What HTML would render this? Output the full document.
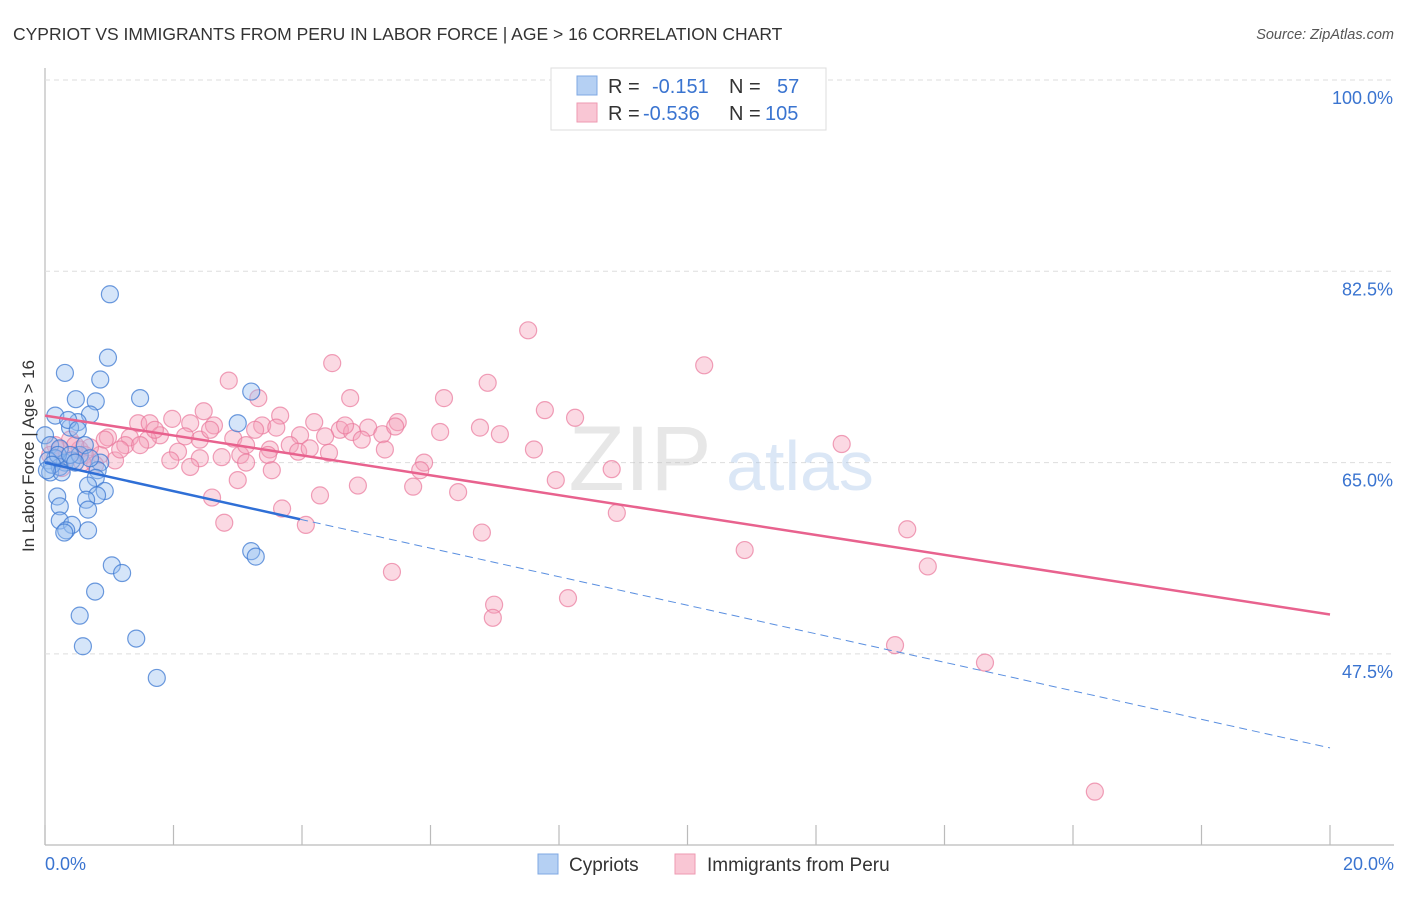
<!DOCTYPE html>
<html><head><meta charset="utf-8"><style>
body{margin:0;background:#fff;font-family:"Liberation Sans",sans-serif}
svg text{font-family:"Liberation Sans",sans-serif}
</style></head><body>
<svg id="chart" width="1406" height="892" viewBox="0 0 1406 892" xmlns="http://www.w3.org/2000/svg">
<text x="13" y="40" font-size="17.5" fill="#333">CYPRIOT VS IMMIGRANTS FROM PERU IN LABOR FORCE | AGE &gt; 16 CORRELATION CHART</text>
<text x="1394" y="39" font-size="14.5" fill="#555" text-anchor="end" font-style="italic">Source: ZipAtlas.com</text>
<g id="grid"></g>
<g opacity="0.35">
<text x="640" y="490" font-size="92" fill="#bbb" text-anchor="middle" font-family="Liberation Serif">ZIP</text>
<text x="800" y="490" font-size="70" fill="#9bbbe6" text-anchor="middle">atlas</text>
</g>
<g id="points"></g>
<g id="lines"></g>
<text transform="translate(34,456) rotate(-90)" font-size="17" fill="#333" text-anchor="middle">In Labor Force | Age &gt; 16</text>
<text x="45" y="870" font-size="18" fill="#3a74d0">0.0%</text>
<text x="1394" y="870" font-size="18" fill="#3a74d0" text-anchor="end">20.0%</text>
<g>
<rect x="551" y="68" width="275" height="62" fill="#fff" stroke="#ddd"/>
<rect x="577" y="76" width="20" height="19" fill="#b5d0f3" stroke="#7fa8e3"/>
<rect x="577" y="103" width="20" height="19" fill="#f9c6d4" stroke="#ee9ab2"/>
<text x="608" y="93" font-size="20" fill="#333">R =</text>
<text x="652" y="93" font-size="20" fill="#3a74d0">-0.151</text>
<text x="729" y="93" font-size="20" fill="#333">N =</text>
<text x="777" y="93" font-size="20" fill="#3a74d0">57</text>
<text x="608" y="120" font-size="20" fill="#333">R =</text>
<text x="643" y="120" font-size="20" fill="#3a74d0">-0.536</text>
<text x="729" y="120" font-size="20" fill="#333">N =</text>
<text x="765" y="120" font-size="20" fill="#3a74d0">105</text>
</g>
<g>
<rect x="538" y="854" width="20" height="20" fill="#b5d0f3" stroke="#7fa8e3"/>
<text x="569" y="871" font-size="19" fill="#333">Cypriots</text>
<rect x="675" y="854" width="20" height="20" fill="#f9c6d4" stroke="#ee9ab2"/>
<text x="707" y="871" font-size="19" fill="#333">Immigrants from Peru</text>
</g>
</svg>
<script>
const yTicks=[100,82.5,65,47.5];
const yTickLabels=["100.0%","82.5%","65.0%","47.5%"];
const xTicks=[0,2,4,6,8,10,12,14,16,18,20];
const blueX=[1.01,0.98,0.31,0.86,1.48,0.48,0.79,0.16,0.70,0.51,0.39,3.21,3.00,0,0.08,0.23,0.16,0.05,0.31,0.42,0.54,0.86,0.82,0.08,0.23,0.79,0.93,0.67,0.81,0.19,0.64,0.67,0.23,0.23,0.42,0.67,0.33,0.30,1.04,1.20,0.78,0.54,0.59,1.42,1.74,3.21,3.28,0.36,0.51,0.20,0.39,0.11,0.26,0.62,0.70,0.03,0.47];
const blueY=[80.4,74.6,73.2,72.6,70.9,70.8,70.6,69.3,69.4,68.7,68.2,71.5,68.6,67.5,66.6,66.3,65.4,65.2,65.0,65.2,65.7,65.0,64.3,64.1,64.6,63.6,62.4,62.9,62.0,61.9,61.6,60.7,61.0,59.7,59.3,58.8,58.8,58.6,55.6,54.9,53.2,51.0,48.2,48.9,45.3,56.9,56.4,68.9,68.0,65.7,65.7,64.8,64.1,66.6,65.4,64.3,65.0];
const pinkX=[7.52,4.47,10.26,6.89,2.86,4.75,6.21,3.32,7.78,2.47,3.66,8.25,1.98,1.45,1.63,2.26,2.63,3.38,4.19,5.49,5.03,6.77,3.60,4.59,4.78,5.25,6.15,7.08,4.36,3.97,1.79,2.18,0.98,1.32,1.60,2.93,4.93,12.40,3.81,3.50,7.61,3.94,2.07,3.47,4.42,3.04,2.41,2.75,1.09,0.86,0.54,0.70,3.13,2.26,5.90,5.84,8.82,3.00,7.95,4.87,5.73,6.43,4.28,2.60,3.69,8.90,13.42,2.79,4.06,6.80,10.89,5.40,13.74,8.14,6.99,6.97,13.23,14.63,16.34,0.39,0.23,0.47,0.62,0.31,0.93,1.25,1.71,2.41,3.27,2.57,5.45,4.12,1.95,1.48,1.17,0.78,0.16,0.08,0.58,0.26,3.13,5.29,3.53,4.67];
const pinkY=[77.1,74.1,73.9,72.3,72.5,70.9,70.9,70.9,69.8,69.7,69.3,69.1,69.0,68.6,68.6,68.6,68.4,68.4,68.7,68.7,68.2,68.2,68.2,68.0,67.8,67.6,67.8,67.6,67.4,67.5,67.5,67.4,67.3,67.3,67.1,67.2,67.1,66.7,66.6,66.2,66.2,66.0,66.0,65.7,65.9,65.7,65.4,65.5,65.2,65.7,66.2,66.4,65.0,64.6,65.0,64.3,64.4,63.4,63.4,62.9,62.8,62.3,62.0,61.8,60.8,60.4,58.9,59.5,59.3,58.6,57.0,55.0,55.5,52.6,52.0,50.8,48.3,46.7,34.9,67.1,66.2,66.6,65.7,65.2,67.1,66.6,68.0,67.1,68.0,68.0,68.3,66.3,65.2,66.6,66.2,64.8,66.6,65.7,65.0,64.5,66.6,66.2,64.3,68.4];
const blueFit=[65.0,38.9]; // at x=0 and x=20
const blueSolidEnd=3.97;
const pinkFit=[69.3,51.1];
const X0=45,X1=1330,Y100=80,PXPER=191.3/17.5;
const sx=v=>X0+(X1-X0)*v/20;
const sy=v=>Y100+(100-v)*PXPER;
const NS="http://www.w3.org/2000/svg";
function mk(tag,attrs,parent){const e=document.createElementNS(NS,tag);for(const k in attrs)e.setAttribute(k,attrs[k]);parent.appendChild(e);return e;}
const grid=document.getElementById('grid');
const ax=mk('line',{x1:X0,y1:68,x2:X0,y2:845,stroke:'#bbb','stroke-width':1.2},grid);


const bx=mk('line',{x1:X0,y1:845,x2:1394,y2:845,stroke:'#bbb','stroke-width':1.2},grid);


yTicks.forEach((t,i)=>{
 const g=mk('line',{x1:X0,y1:sy(t),x2:1394,y2:sy(t),stroke:'#ddd','stroke-dasharray':'5,4'},grid);
 
 
 const tx=mk('text',{x:1393,y:sy(t)+24,'font-size':18,fill:'#3a74d0','text-anchor':'end'},grid);
 tx.textContent=yTickLabels[i];
 
 
});
xTicks.forEach(t=>{
 const l=mk('line',{x1:sx(t),y1:825,x2:sx(t),y2:845,stroke:'#bbb','stroke-width':1.2},grid);
 
 
});
const pts=document.getElementById('points');
pinkX.forEach((x,i)=>{
 const c=mk('circle',{cx:sx(x),cy:sy(pinkY[i]),r:8.5,fill:'rgba(244,160,184,0.4)',stroke:'rgba(233,120,155,0.7)','stroke-width':1.2},pts);
 
 
});
blueX.forEach((x,i)=>{
 const c=mk('circle',{cx:sx(x),cy:sy(blueY[i]),r:8.5,fill:'rgba(150,190,240,0.4)',stroke:'rgba(60,120,210,0.75)','stroke-width':1.2},pts);
 
 
});
const lines=document.getElementById('lines');
const bAt=x=>blueFit[0]+(blueFit[1]-blueFit[0])*x/20;
const pl=mk('line',{x1:sx(0),y1:sy(pinkFit[0]),x2:sx(20),y2:sy(pinkFit[1]),stroke:'#e8628e','stroke-width':2.5},lines);


const bl=mk('line',{x1:sx(0),y1:sy(bAt(0)),x2:sx(blueSolidEnd),y2:sy(bAt(blueSolidEnd)),stroke:'#2f6fd6','stroke-width':2.5},lines);


const bd=mk('line',{x1:sx(blueSolidEnd),y1:sy(bAt(blueSolidEnd)),x2:sx(20),y2:sy(bAt(20)),stroke:'#5a8fe0','stroke-width':1,'stroke-dasharray':'8,5'},lines);


</script>
</body></html>
